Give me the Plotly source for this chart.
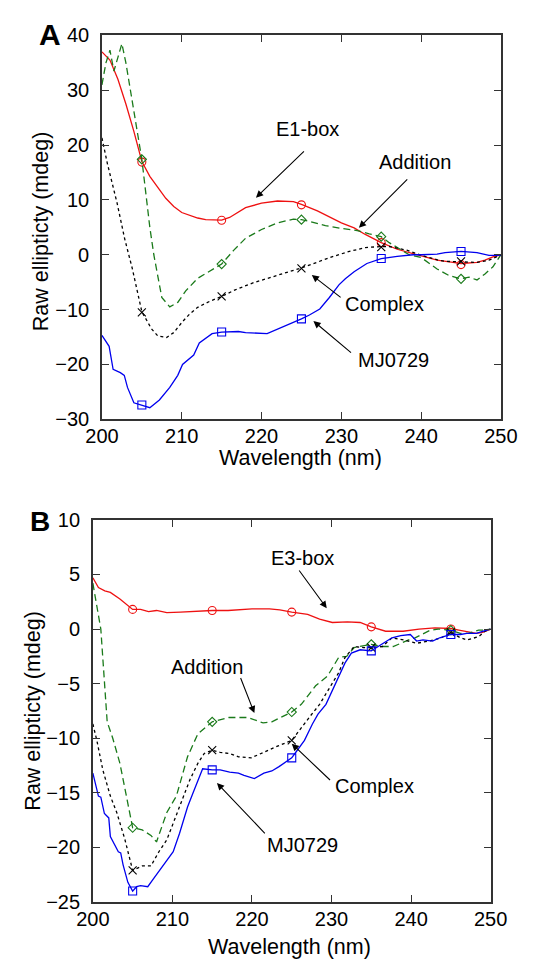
import plotly.graph_objects as go

# ---------------- Panel A data ----------------
a_e1_x = [200,201,202,203,204,205,206,207,208,209,210,212,213,215,216,218,220,222,224,225,227,230,231.6,233,235,237,239,240,242,244,245,247,248,249,250]
a_e1_y = [37,35.5,32,27.5,22.5,17,14.3,12.2,10.3,8.8,7.7,6.7,6.4,6.3,6.8,8.6,9.4,9.8,9.7,9.2,8.0,5.8,4.9,3.7,2.2,1.0,0.2,-0.3,-1.0,-1.4,-1.6,-1.4,-1.0,-0.4,0]

a_add_x = [200,200.5,201,201.5,202,202.5,203,204,205,206,206.5,207.5,208.5,209.5,210.5,212,213.5,215,216.5,218,220,222,224,225,226,228,230,232,233.5,235,236,237.5,238.5,240,241,242,243.5,245,246,247,248,249,250]
a_add_y = [31,35,37.3,33.5,36,38.5,35,26.6,17.4,5,0,-7.8,-9.5,-8.7,-6.6,-4.3,-3,-1.7,0.8,3.0,4.6,5.8,6.5,6.4,6.1,5.3,4.8,4.4,3.8,3.3,2.2,0.8,0,-0.5,-1.5,-2.6,-3.8,-4.4,-4.1,-4.6,-3.5,-2.2,0]

a_cpx_x = [200,200.7,201.9,202.85,203.8,205,206.2,207,208.1,209,210.1,211,212,213.5,215,216.7,219,221,223,225,226.9,229,231,233,235,236,238.3,240,242.2,243,245,247,248.5,250]
a_cpx_y = [21.3,16.5,9.4,2.9,-2.5,-10.4,-13.5,-14.8,-15.1,-14.2,-12.2,-10.8,-9.6,-8.5,-7.6,-6.4,-5.1,-4.2,-3.3,-2.4,-1.4,-0.3,0.6,1.3,1.5,1.5,0.8,-0.1,-1.0,-1.2,-1.3,-1.4,-1.0,0]

a_mj_x = [200,200.5,200.9,201.4,202.3,202.8,203.2,204,205,206,207.2,208.5,209.5,210.1,211.5,212.2,213.8,215,217.1,218,220.7,222,224.2,225,226,227.3,228.5,229.7,230.5,231.6,233.2,235,237,239,240,242,243,245,247,248.5,249.5,250]
a_mj_y = [-14.7,-15.8,-16.7,-20.9,-21.5,-22,-24.2,-27,-27.4,-27.9,-26.5,-24.2,-22,-20,-18.3,-16.1,-14.4,-14.1,-14.0,-14.2,-14.4,-13.6,-12.3,-11.7,-11.0,-9.9,-7.8,-5.5,-4.4,-3.1,-1.6,-0.7,-0.3,0,0,0.1,0.4,0.6,0.4,-0.1,-0.1,0]

marker_x = [205,215,225,235,245]
a_e1_m = [16.9,6.3,9.1,2.2,-1.8]
a_add_m = [17.4,-1.7,6.4,3.3,-4.4]
a_cpx_m = [-10.5,-7.6,-2.5,1.4,-1.2]
a_mj_m = [-27.4,-14.1,-11.7,-0.7,0.6]

# ---------------- Panel B data ----------------
b_e3_x = [200,200.7,201.5,202.2,203.4,204.4,205,206,207,208,209.3,211,212,213,215,217,219,220,222.2,223.5,225,227,228.5,230.1,232,233.6,235,236.8,239,241,243,245,246,247,248.2,249,250]
b_e3_y = [4.7,3.8,3.5,3.35,2.75,2.15,1.8,1.8,1.6,1.7,1.5,1.55,1.6,1.6,1.7,1.7,1.8,1.85,1.85,1.75,1.55,1.35,0.9,0.6,0.65,0.6,0.2,-0.2,-0.2,0,0.1,0.05,-0.1,-0.25,-0.4,-0.3,0]

b_add_x = [200,200.5,201,201.8,202.5,203.4,204.2,205,206.2,207.3,208,209.3,210.5,211.9,213.2,215,217.1,219.5,221.4,222.5,225,226.2,228,229.5,230.9,231.9,232.85,235,236.4,237.75,239.7,240.5,242.3,243.4,245,246.2,247.2,248.5,249.3,250]
b_add_y = [4.2,2.2,0,-8.5,-10,-12.3,-15.3,-18.2,-18.4,-18.9,-19.5,-16.8,-15.3,-11.7,-9.6,-8.5,-8.1,-8.1,-8.6,-8.5,-7.6,-6.9,-5.2,-4.3,-2.6,-2.5,-1.7,-1.4,-1.6,-1.6,-1.0,-0.8,-0.15,0,-0.1,-0.4,-0.4,-0.1,-0.1,0]

b_cpx_x = [200,200.5,201.25,202.2,203,204,205,206.2,207.3,208.3,209.3,210.3,211.1,212.2,213.2,214,215,216,217.2,218.3,219.9,221.1,222,223.3,225,226,227.3,228.5,229.7,230.9,231.7,232.85,234,235,236.4,237.6,239.1,240.7,242.3,243.8,245,246.2,247,248.5,249.3,250]
b_cpx_y = [-8.7,-10.2,-12.9,-15.3,-16.8,-19.2,-22.1,-21.7,-21.7,-20.4,-19.3,-17.4,-15.9,-13.8,-12.3,-11.4,-11.1,-11.3,-11.4,-11.7,-11.8,-11.4,-11.1,-10.7,-10.2,-9.2,-8.0,-6.9,-5.45,-4.0,-2.6,-1.6,-1.7,-1.7,-1.6,-0.8,-1.0,-1.3,-1.1,-0.8,-0.3,-0.8,-1.0,-0.7,-0.2,0]

b_mj_x = [200,200.5,200.7,201,201.45,202,202.2,203.2,203.5,203.8,204.4,205,205.5,206,206.9,207.7,208.9,210.1,210.9,211.9,212.6,213.2,213.8,215,216,217.2,218.3,219,220.3,221.5,222.5,223.4,225,225.4,226.6,227.6,228.3,229.3,230.7,231.7,232.5,233.6,235,236.6,237.6,238.7,239.9,240.7,241.5,242.7,243.6,245,246.2,247,248.2,249.3,250]
b_mj_y = [-13.2,-14.8,-15.3,-15.4,-16.9,-17.3,-19.0,-20.4,-20.5,-21.6,-23.2,-24.0,-23.6,-23.5,-23.6,-22.8,-21.6,-20.4,-18.7,-16.3,-15.0,-13.8,-12.8,-12.9,-12.9,-13.1,-13.2,-13.4,-13.7,-13.2,-13.0,-12.6,-11.8,-11.4,-10.2,-8.7,-7.8,-6.9,-4.6,-3.1,-2.2,-1.9,-2.0,-1.3,-0.8,-0.6,-0.5,-1.1,-1.0,-1.1,-0.8,-0.5,-0.5,-0.4,-0.4,-0.15,0]

b_e3_m = [1.8,1.7,1.55,0.2,0.0]
b_add_m = [-18.2,-8.5,-7.6,-1.4,-0.1]
b_cpx_m = [-22.1,-11.1,-10.2,-1.7,-0.3]
b_mj_m = [-24.0,-12.9,-11.8,-2.0,-0.5]

x_ticks = [200,210,220,230,240,250]
a_y_ticks = [-30,-20,-10,0,10,20,30,40]
b_y_ticks = [-25,-20,-15,-10,-5,0,5,10]

RED = "#ee1111"
GREEN = "#1a7a1a"
BLACK = "#000000"
BLUE = "#0000ee"
FONT = "Liberation Sans, Arial, sans-serif"

fig = go.Figure()

def add_series(x, y, mx, my, color, dash, symbol, xa, ya, msize=8):
    fig.add_trace(go.Scatter(x=x, y=y, mode="lines", xaxis=xa, yaxis=ya,
                             line=dict(color=color, width=1.3, dash=dash),
                             showlegend=False, hoverinfo="skip"))
    fig.add_trace(go.Scatter(x=mx, y=my, mode="markers", xaxis=xa, yaxis=ya,
                             marker=dict(symbol=symbol, size=msize, color=color,
                                         line=dict(color=color, width=1.1)),
                             showlegend=False, hoverinfo="skip"))

LONG = "7px,4px"
SHORT = "3px,3px"

# panel A
add_series(a_e1_x, a_e1_y, marker_x, a_e1_m, RED, "solid", "circle-open", "x", "y")
add_series(a_add_x, a_add_y, marker_x, a_add_m, GREEN, LONG, "diamond-open", "x", "y", 7)
add_series(a_cpx_x, a_cpx_y, marker_x, a_cpx_m, BLACK, SHORT, "x-thin-open", "x", "y")
add_series(a_mj_x, a_mj_y, marker_x, a_mj_m, BLUE, "solid", "square-open", "x", "y")
# panel B
add_series(b_e3_x, b_e3_y, marker_x, b_e3_m, RED, "solid", "circle-open", "x2", "y2")
add_series(b_add_x, b_add_y, marker_x, b_add_m, GREEN, LONG, "diamond-open", "x2", "y2", 7)
add_series(b_cpx_x, b_cpx_y, marker_x, b_cpx_m, BLACK, SHORT, "x-thin-open", "x2", "y2")
add_series(b_mj_x, b_mj_y, marker_x, b_mj_m, BLUE, "solid", "square-open", "x2", "y2")

W, H = 536, 968
axis_common = dict(showline=True, linecolor="#333333", linewidth=1.5, mirror="ticks",
                   ticks="inside", ticklen=7, tickwidth=1, tickcolor="#333333",
                   showgrid=False, zeroline=False,
                   tickfont=dict(family=FONT, size=20, color="black"))

fig.update_layout(
    width=W, height=H, margin=dict(l=0, r=0, t=0, b=0),
    plot_bgcolor="white", paper_bgcolor="white",
    xaxis=dict(domain=[90.7/W, 516.7/W], range=[200, 250], tickvals=x_ticks,
               anchor="y", ticklabelstandoff=-2, **axis_common),
    yaxis=dict(domain=[1-417.7/H, 1-25/H], range=[-30, 40], tickvals=a_y_ticks,
               anchor="x", ticklabelstandoff=7, **axis_common),
    xaxis2=dict(domain=[81/W, 505.7/W], range=[200, 250], tickvals=x_ticks,
                anchor="y2", ticklabelstandoff=-2, **axis_common),
    yaxis2=dict(domain=[1-911.7/H, 1-520.7/H], range=[-25, 10], tickvals=b_y_ticks,
                anchor="x2", ticklabelstandoff=7, **axis_common),
)

ann = []
def label(text, x, y, xref, yref, size=20):
    ann.append(dict(text=text, x=x, y=y, xref=xref, yref=yref, showarrow=False,
                    font=dict(family=FONT, size=size, color="black"),
                    xanchor="center", yanchor="middle"))

def arrow(x, y, ax, ay, xref, yref):
    ann.append(dict(text="", x=x, y=y, ax=ax, ay=ay, xref=xref, yref=yref,
                    axref=xref, ayref=yref, showarrow=True, arrowhead=2,
                    arrowsize=1.3, arrowwidth=1.1, arrowcolor="black"))

# panel A annotations
label("E1-box", 225.8, (249.4-121)/5.61, "x", "y")
arrow(219.3, 10.4, 225.5, 19.1, "x", "y")
label("Addition", 239.2, (249.4-155)/5.61, "x", "y")
arrow(232.2, 4.9, 238.45, 14.0, "x", "y")
label("Complex", 235.4, (249.4-300)/5.61, "x", "y")
arrow(226.3, -3.7, 230.1, -8.0, "x", "y")
label("MJ0729", 236.5, (249.4-357)/5.61, "x", "y")
arrow(226.5, -12.1, 231.4, -18.1, "x", "y")

# panel B annotations
label("E3-box", 226.4, (632.4-560)/11.17, "x2", "y2")
arrow(229.4, 1.9, 225.8, 5.5, "x2", "y2")
label("Addition", 214.4, (632.4-671.7)/11.17, "x2", "y2")
arrow(220.3, -7.7, 218.5, -4.35, "x2", "y2")
label("Complex", 235.4, (632.4-793)/11.17, "x2", "y2")
arrow(225.0, -10.5, 230.0, -13.96, "x2", "y2")
label("MJ0729", 226.3, (632.4-853)/11.17, "x2", "y2")
arrow(215.6, -14.1, 221.8, -18.85, "x2", "y2")

# panel letters and axis titles (paper coords)
ann.append(dict(text="<b>A</b>", x=35/W, y=1-24/H, xref="paper", yref="paper", showarrow=False,
                font=dict(family=FONT, size=30, color="black"), xanchor="center", yanchor="middle"))
ann.append(dict(text="<b>B</b>", x=25/W, y=1-522/H, xref="paper", yref="paper", showarrow=False,
                font=dict(family=FONT, size=28, color="black"), xanchor="center", yanchor="middle"))
for (xc, yc) in [(26, 225), (17, 716)]:
    ann.append(dict(text="Raw ellipticty (mdeg)", x=xc/W, y=1-yc/H, xref="paper", yref="paper",
                    showarrow=False, textangle=-90,
                    font=dict(family=FONT, size=21.5, color="black"),
                    xanchor="center", yanchor="middle"))
for (xc, yc) in [(302.5, 457), (290.8, 958)]:
    ann.append(dict(text="Wavelength (nm)", x=xc/W, y=1-yc/H, xref="paper", yref="paper",
                    showarrow=False, font=dict(family=FONT, size=21.5, color="black"),
                    xanchor="center", yanchor="middle"))

fig.update_layout(annotations=ann)
fig.write_html("out.html", config={"displayModeBar": False},
               post_script="document.body.style.margin='0';document.body.style.overflow='hidden';")
